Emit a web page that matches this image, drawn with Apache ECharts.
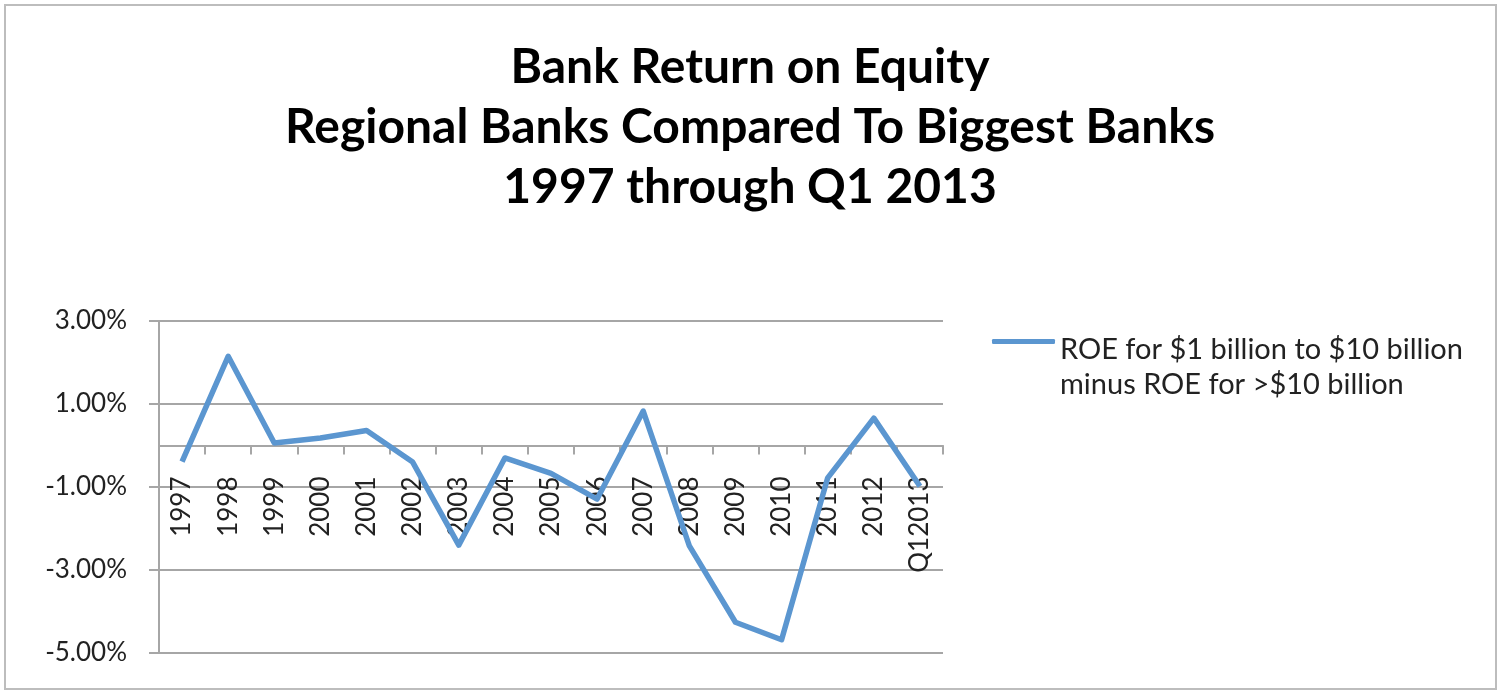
<!DOCTYPE html>
<html>
<head>
<meta charset="utf-8">
<script src="https://cdn.jsdelivr.net/npm/echarts@6/dist/echarts.min.js"></script>
<style>
  html, body { margin: 0; padding: 0; background: #fff; }
  #frame { position: absolute; left: 4px; top: 4px; width: 1489px; height: 682px; border: 2px solid #bdbdbd; box-sizing: content-box; }
  #chart { position: absolute; left: 0; top: 0; width: 1500px; height: 695px; }
</style>
</head>
<body>
<div id="frame"></div>
<div id="chart"></div>
<script>
const categories = ['1997','1998','1999','2000','2001','2002','2003','2004','2005','2006','2007','2008','2009','2010','2011','2012','Q12013'];
const roeDiff = [-0.39, 2.15, 0.06, 0.18, 0.36, -0.40, -2.40, -0.30, -0.67, -1.29, 0.83, -2.42, -4.26, -4.68, -0.78, 0.66, -0.98];
const yTicks = [-5, -3, -1, 1, 3];
const seriesName = 'ROE for $1 billion to $10 billion\nminus ROE for >$10 billion';
const titleText = 'Bank Return on Equity\nRegional Banks Compared To Biggest Banks\n1997 through Q1 2013';

const chart = echarts.init(document.getElementById('chart'), null, { renderer: 'canvas' });
chart.setOption({
  animation: false,
  backgroundColor: 'transparent',
  title: {
    text: titleText,
    left: 'center',
    top: 33,
    textStyle: { fontFamily: 'Lato', fontWeight: 'bold', fontSize: 48, lineHeight: 60, color: '#000' }
  },
  legend: {
    show: true,
    left: 987,
    top: 276,
    icon: 'roundRect',
    itemWidth: 63,
    itemHeight: 5,
    formatter: name => '{s| }\n' + name.split('\n').map(l => '{a|' + l + '}').join('\n'),
    textStyle: {
      fontFamily: 'Lato', fontSize: 29, color: '#222',
      rich: {
        s: { fontSize: 10, lineHeight: 51, height: 51 },
        a: { fontFamily: 'Lato', fontSize: 29, lineHeight: 35, color: '#222' }
      }
    },
    data: [seriesName]
  },
  grid: { left: 159, right: 557, top: 321, bottom: 42, outerBoundsMode: 'none', containLabel: false },
  xAxis: {
    type: 'category',
    data: categories,
    boundaryGap: true,
    offset: -207.5,
    axisLine: { show: true, onZero: false, lineStyle: { color: '#a6a6a6', width: 2 } },
    axisTick: { show: true, interval: 0, length: 9, inside: false, lineStyle: { color: '#a6a6a6', width: 2 } },
    axisLabel: { interval: 0, rotate: 90, margin: 31, fontFamily: 'Lato', fontSize: 26, color: '#222' },
    splitLine: { show: false }
  },
  yAxis: {
    type: 'value',
    min: -5,
    max: 3,
    axisLine: { show: true, lineStyle: { color: '#a6a6a6', width: 2 } },
    axisTick: { show: true, length: 10, customValues: yTicks, lineStyle: { color: '#a6a6a6', width: 2 } },
    axisLabel: { customValues: yTicks, margin: 32, fontFamily: 'Lato', fontSize: 26, color: '#222',
      formatter: v => v.toFixed(2) + '%' },
    splitLine: { show: true, lineStyle: { color: '#a6a6a6', width: 2 } }
  },
  series: [{
    name: seriesName,
    type: 'line',
    data: roeDiff,
    symbol: 'none',
    showSymbol: false,
    lineStyle: { color: '#5b96d0', width: 5.5, join: 'round' },
    itemStyle: { color: '#5b96d0' }
  }]
});
</script>
</body>
</html>
